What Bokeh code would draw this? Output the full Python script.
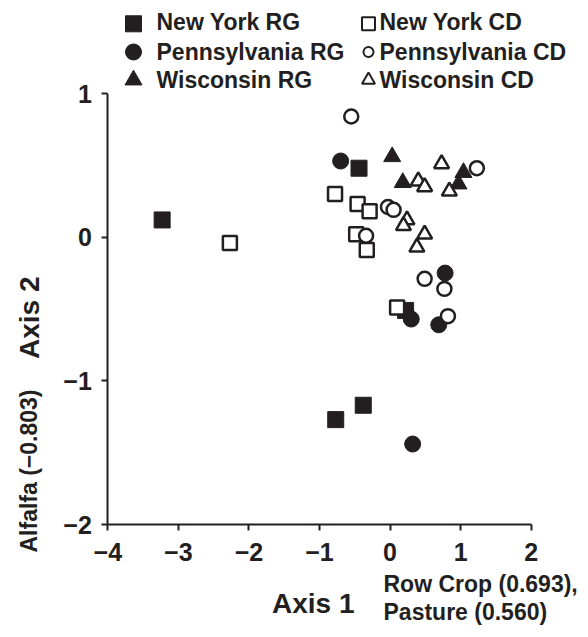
import math
from bokeh.plotting import figure
from bokeh.models import Range1d, FixedTicker, Label, LinearAxis
from bokeh.embed import file_html
from bokeh.resources import INLINE

# ---------------- data ----------------
ny_rg_x = [-3.23, -0.44, 0.22, -0.38, -0.77]
ny_rg_y = [0.12, 0.48, -0.51, -1.17, -1.27]
ny_cd_x = [-2.27, -0.78, -0.46, -0.29, -0.48, -0.33, 0.10]
ny_cd_y = [-0.04, 0.30, 0.23, 0.18, 0.02, -0.09, -0.49]
pa_rg_x = [-0.70, 0.78, 0.30, 0.69, 0.32]
pa_rg_y = [0.53, -0.25, -0.57, -0.61, -1.44]
pa_cd_x = [-0.55, 1.23, -0.03, 0.05, -0.34, 0.49, 0.77, 0.82]
pa_cd_y = [0.84, 0.48, 0.21, 0.19, 0.01, -0.29, -0.36, -0.55]
wi_rg_x = [0.03, 1.04, 0.18, 0.97]
wi_rg_y = [0.56, 0.45, 0.38, 0.37]
wi_cd_x = [0.73, 0.40, 0.49, 0.84, 0.24, 0.19, 0.49, 0.38]
wi_cd_y = [0.51, 0.39, 0.35, 0.32, 0.12, 0.08, 0.02, -0.07]

x_ticks = [-4, -3, -2, -1, 0, 1, 2]
y_ticks = [-2, -1, 0, 1]
x_tick_labels = ["\u22124", "\u22123", "\u22122", "\u22121", "0", "1", "2"]
y_tick_labels = ["\u22122", "\u22121", "0", "1"]

legend_left = ["New York RG", "Pennsylvania RG", "Wisconsin RG"]
legend_right = ["New York CD", "Pennsylvania CD", "Wisconsin CD"]
x_title = "Axis 1"
x_sub = ["Row Crop (0.693),", "Pasture (0.560)"]
y_title = "Axis 2"
y_sub = "Alfalfa (\u22120.803)"

# ---------------- layout (pixel geometry of the frame) ----------------
INK = "#231f20"
FONT = "Liberation Sans"
W, H = 580, 630
PX_XMIN, PX_XMAX = 107.3, 530.7   # pixel of x=-4 and x=2
PX_YMAX, PX_YMIN = 93.0, 524.0    # pixel of y=1 and y=-2
SX = (PX_XMAX - PX_XMIN) / 6.0
SY = (PX_YMIN - PX_YMAX) / 3.0


def dx(px):
    return -4 + (px - PX_XMIN) / SX


def dy(py):
    return 1 - (py - PX_YMAX) / SY


p = figure(width=W, height=H, output_backend="svg", toolbar_location=None,
           x_range=Range1d(dx(0), dx(W)), y_range=Range1d(dy(H), dy(0)),
           x_axis_type=None, y_axis_type=None,
           min_border_left=0, min_border_right=0,
           min_border_top=0, min_border_bottom=0)
p.outline_line_color = None
p.grid.visible = False
p.background_fill_color = "white"
p.border_fill_color = "white"

xa = LinearAxis(fixed_location=-2)
ya = LinearAxis(fixed_location=-4)
p.add_layout(xa, "below")
p.add_layout(ya, "left")

for ax, ticks, labels, bounds in ((xa, x_ticks, x_tick_labels, (-4, 2)),
                                  (ya, y_ticks, y_tick_labels, (-2, 1))):
    ax.bounds = bounds
    ax.ticker = FixedTicker(ticks=ticks)
    ax.major_label_overrides = {t: l for t, l in zip(ticks, labels)}
    ax.axis_line_width = 2
    ax.axis_line_color = INK
    ax.major_tick_line_width = 2
    ax.major_tick_line_color = INK
    ax.major_tick_out = 6
    ax.major_tick_in = 0
    ax.minor_tick_line_color = None
    ax.major_label_text_font = FONT
    ax.major_label_text_font_style = "bold"
    ax.major_label_text_font_size = "25px"
    ax.major_label_text_color = INK
xa.major_label_standoff = 12
ya.major_label_standoff = 10

# ---------------- markers: RG (filled) first, then CD (open) ----------------
p.scatter(ny_rg_x, ny_rg_y, marker="square", size=16, fill_color=INK, line_color=INK, line_width=1)
p.scatter(pa_rg_x, pa_rg_y, marker="circle", size=16, fill_color=INK, line_color=INK, line_width=1)
p.scatter(wi_rg_x, wi_rg_y, marker="triangle", size=17, fill_color=INK, line_color=INK, line_width=1)
p.scatter(ny_cd_x, ny_cd_y, marker="square", size=14, fill_color="white", line_color=INK, line_width=2.5)
p.scatter(pa_cd_x, pa_cd_y, marker="circle", size=14, fill_color="white", line_color=INK, line_width=2.5)
p.scatter(wi_cd_x, wi_cd_y, marker="triangle", size=15, fill_color="white", line_color=INK, line_width=2.5)


def label(px, py, text, size, angle=0.0):
    # (px, py) is where the centre line of the text's capitals should fall
    p.add_layout(Label(x=dx(px), y=dy(py), text=text, angle=angle, text_font=FONT,
                       text_font_style="bold", text_font_size=size, text_color=INK,
                       text_align="left", text_baseline="alphabetic"))


# ---------------- legend (drawn by hand, two columns) ----------------
row_mark = [23.3, 51.5, 79.5]
row_text = [21.2, 51.0, 79.2]
left_marks = [("square", 16, 1), ("circle", 16, 1), ("triangle", 17, 1)]
right_marks = [("square", 13, 2), ("circle", 10, 2), ("triangle", 13, 2)]
for i in range(3):
    m, s, lw = left_marks[i]
    p.scatter([dx(133)], [dy(row_mark[i])], marker=m, size=s, fill_color=INK, line_color=INK, line_width=lw)
    m, s, lw = right_marks[i]
    p.scatter([dx(368)], [dy(row_mark[i])], marker=m, size=s, fill_color="white", line_color=INK, line_width=lw)
    label(156, row_text[i], legend_left[i], "23px")
    label(379, row_text[i], legend_right[i], "23px")

# ---------------- axis titles ----------------
label(271.5, 602.5, x_title, "28px")
label(383, 583.3, x_sub[0], "23px")
label(383, 611.3, x_sub[1], "23px")
label(29.2, 358.5, y_title, "28px", angle=math.pi / 2)
label(28.0, 552, y_sub, "23px", angle=math.pi / 2)

open("out.html", "w").write(file_html(p, INLINE))
